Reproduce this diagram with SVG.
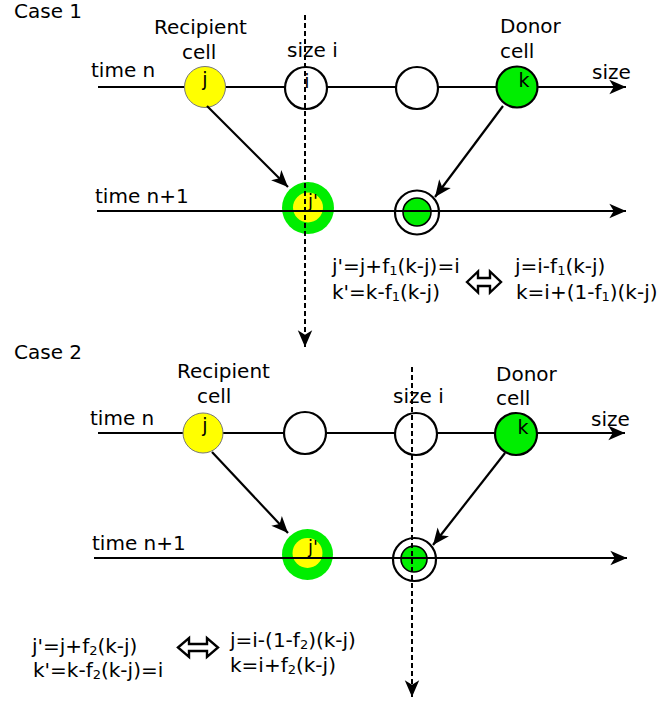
<svg xmlns="http://www.w3.org/2000/svg" width="660" height="703" viewBox="0 0 660 703">
  <defs>
    <marker id="head" markerUnits="userSpaceOnUse" markerWidth="20" markerHeight="20" viewBox="-16 -8 18 16" refX="0" refY="0" orient="auto">
      <path d="M0,0 L-15,-6.5 L-11,0 L-15,6.5 Z" fill="#000"/>
    </marker>
    <style>
      text { font-family: "DejaVu Sans", "Liberation Sans", sans-serif; font-size: 20px; fill: #000; }
      .sub { font-size: 13px; }
      .axis { stroke: #000; stroke-width: 2.2; fill: none; marker-end: url(#head); }
      .link { stroke: #000; stroke-width: 2.2; fill: none; marker-end: url(#head); }
      .dash { stroke: #000; stroke-width: 2; stroke-dasharray: 5 3; fill: none; marker-end: url(#head); }
      .empty { fill: #fff; stroke: #000; stroke-width: 2.2; }
      .recip { fill: #ffff00; stroke: #777; stroke-width: 1; }
      .donor { fill: #00ee00; stroke: #000; stroke-width: 2.2; }
      .outerG { fill: #00ee00; }
      .innerY { fill: #ffff00; }
      .dbl { fill: #fff; stroke: #000; stroke-width: 2.2; }
      .dblin { fill: #00ee00; stroke: #000; stroke-width: 1.6; }
      .equiv { fill: #fff; stroke: #000; stroke-width: 2.4; stroke-linejoin: miter; }
    </style>
  </defs>

  <!-- ============ Case 1 ============ -->
  <text x="14" y="18">Case 1</text>
  <text x="154" y="34">Recipient</text>
  <text x="182" y="59">cell</text>
  <text x="287" y="57">size i</text>
  <text x="500" y="33">Donor</text>
  <text x="500" y="58">cell</text>
  <text x="592" y="79">size</text>
  <text x="91" y="77">time n</text>
  <text x="95" y="203">time n+1</text>

  <g id="c1-axes">
    <line class="axis" x1="98" y1="87" x2="626" y2="87"/>
  </g>

  <g id="c1-j">
    <circle class="recip" cx="205" cy="87" r="20.5"/>
    <text x="205" y="86" text-anchor="middle" style="font-size:19px">j</text>
  </g>
  <g id="c1-i">
    <circle class="empty" cx="306" cy="88" r="21"/>
    <text x="307" y="88" text-anchor="middle" style="font-size:19px">i</text>
  </g>
  <g id="c1-mid">
    <circle class="empty" cx="417" cy="88" r="21"/>
  </g>
  <g id="c1-k">
    <circle class="donor" cx="517" cy="87" r="20.5"/>
    <text x="524" y="87" text-anchor="middle" style="font-size:19px">k</text>
  </g>

  <g id="c1-jprime">
    <circle class="outerG" cx="308" cy="208" r="26"/>
    <circle class="innerY" cx="308" cy="207.5" r="15"/>
    <text x="313" y="207" text-anchor="middle" style="font-size:18px">j'</text>
  </g>
  <g id="c1-kprime">
    <circle class="dbl" cx="417" cy="212.5" r="22"/>
    <circle class="dblin" cx="417" cy="212" r="14"/>
  </g>

  <g id="c1-connectors">
    <line class="axis" x1="97" y1="211" x2="626" y2="211"/>
    <line class="link" x1="207" y1="106" x2="288" y2="187"/>
    <line class="link" x1="503" y1="106" x2="435" y2="197"/>
    <line class="dash" x1="305" y1="15" x2="305" y2="347"/>
  </g>

  <g id="c1-equations">
    <text x="332" y="273">j'=j+f<tspan class="sub" dy="2">1</tspan><tspan dy="-2">(k-j)=i</tspan></text>
    <text x="332" y="299">k'=k-f<tspan class="sub" dy="2">1</tspan><tspan dy="-2">(k-j)</tspan></text>
    <path class="equiv" d="M467,282 L478,271.5 L478,278 L490,278 L490,271.5 L501,282 L490,292.5 L490,286 L478,286 L478,292.5 Z"/>
    <text x="515" y="273">j=i-f<tspan class="sub" dy="2">1</tspan><tspan dy="-2">(k-j)</tspan></text>
    <text x="516" y="299">k=i+(1-f<tspan class="sub" dy="2">1</tspan><tspan dy="-2">)(k-j)</tspan></text>
  </g>

  <!-- ============ Case 2 ============ -->
  <text x="14" y="359">Case 2</text>
  <text x="177" y="378">Recipient</text>
  <text x="197" y="403">cell</text>
  <text x="393" y="403">size i</text>
  <text x="496" y="381">Donor</text>
  <text x="496" y="405">cell</text>
  <text x="591" y="426">size</text>
  <text x="90" y="425">time n</text>
  <text x="92" y="550">time n+1</text>

  <g id="c2-axes">
    <line class="axis" x1="98" y1="433" x2="625" y2="433"/>
  </g>

  <g id="c2-j">
    <circle class="recip" cx="203" cy="433" r="20"/>
    <text x="205" y="432" text-anchor="middle" style="font-size:19px">j</text>
  </g>
  <g id="c2-mid">
    <circle class="empty" cx="305" cy="433" r="21"/>
  </g>
  <g id="c2-i">
    <circle class="empty" cx="416" cy="434" r="21"/>
  </g>
  <g id="c2-k">
    <circle class="donor" cx="516" cy="434" r="21"/>
    <text x="523" y="434" text-anchor="middle" style="font-size:19px">k</text>
  </g>

  <g id="c2-jprime">
    <circle class="outerG" cx="307.5" cy="554.5" r="25.5"/>
    <circle class="innerY" cx="307.5" cy="553" r="15"/>
    <text x="313" y="553" text-anchor="middle" style="font-size:18px">j'</text>
  </g>
  <g id="c2-kprime">
    <circle class="dbl" cx="414.5" cy="559.5" r="21.5"/>
    <circle class="dblin" cx="414" cy="559" r="13"/>
  </g>

  <g id="c2-connectors">
    <line class="axis" x1="94" y1="558" x2="627" y2="558"/>
    <line class="link" x1="212" y1="452" x2="288" y2="533"/>
    <line class="link" x1="505" y1="453" x2="433" y2="545"/>
    <line class="dash" x1="412" y1="367" x2="412" y2="697"/>
  </g>

  <g id="c2-equations">
    <text x="32" y="653">j'=j+f<tspan class="sub" dy="2">2</tspan><tspan dy="-2">(k-j)</tspan></text>
    <text x="33" y="677">k'=k-f<tspan class="sub" dy="2">2</tspan><tspan dy="-2">(k-j)=i</tspan></text>
    <path class="equiv" d="M178,647.5 L189,638 L189,644 L207,644 L207,638 L218,647.5 L207,657 L207,651 L189,651 L189,657 Z"/>
    <text x="230" y="647">j=i-(1-f<tspan class="sub" dy="2">2</tspan><tspan dy="-2">)(k-j)</tspan></text>
    <text x="230" y="672">k=i+f<tspan class="sub" dy="2">2</tspan><tspan dy="-2">(k-j)</tspan></text>
  </g>
</svg>
